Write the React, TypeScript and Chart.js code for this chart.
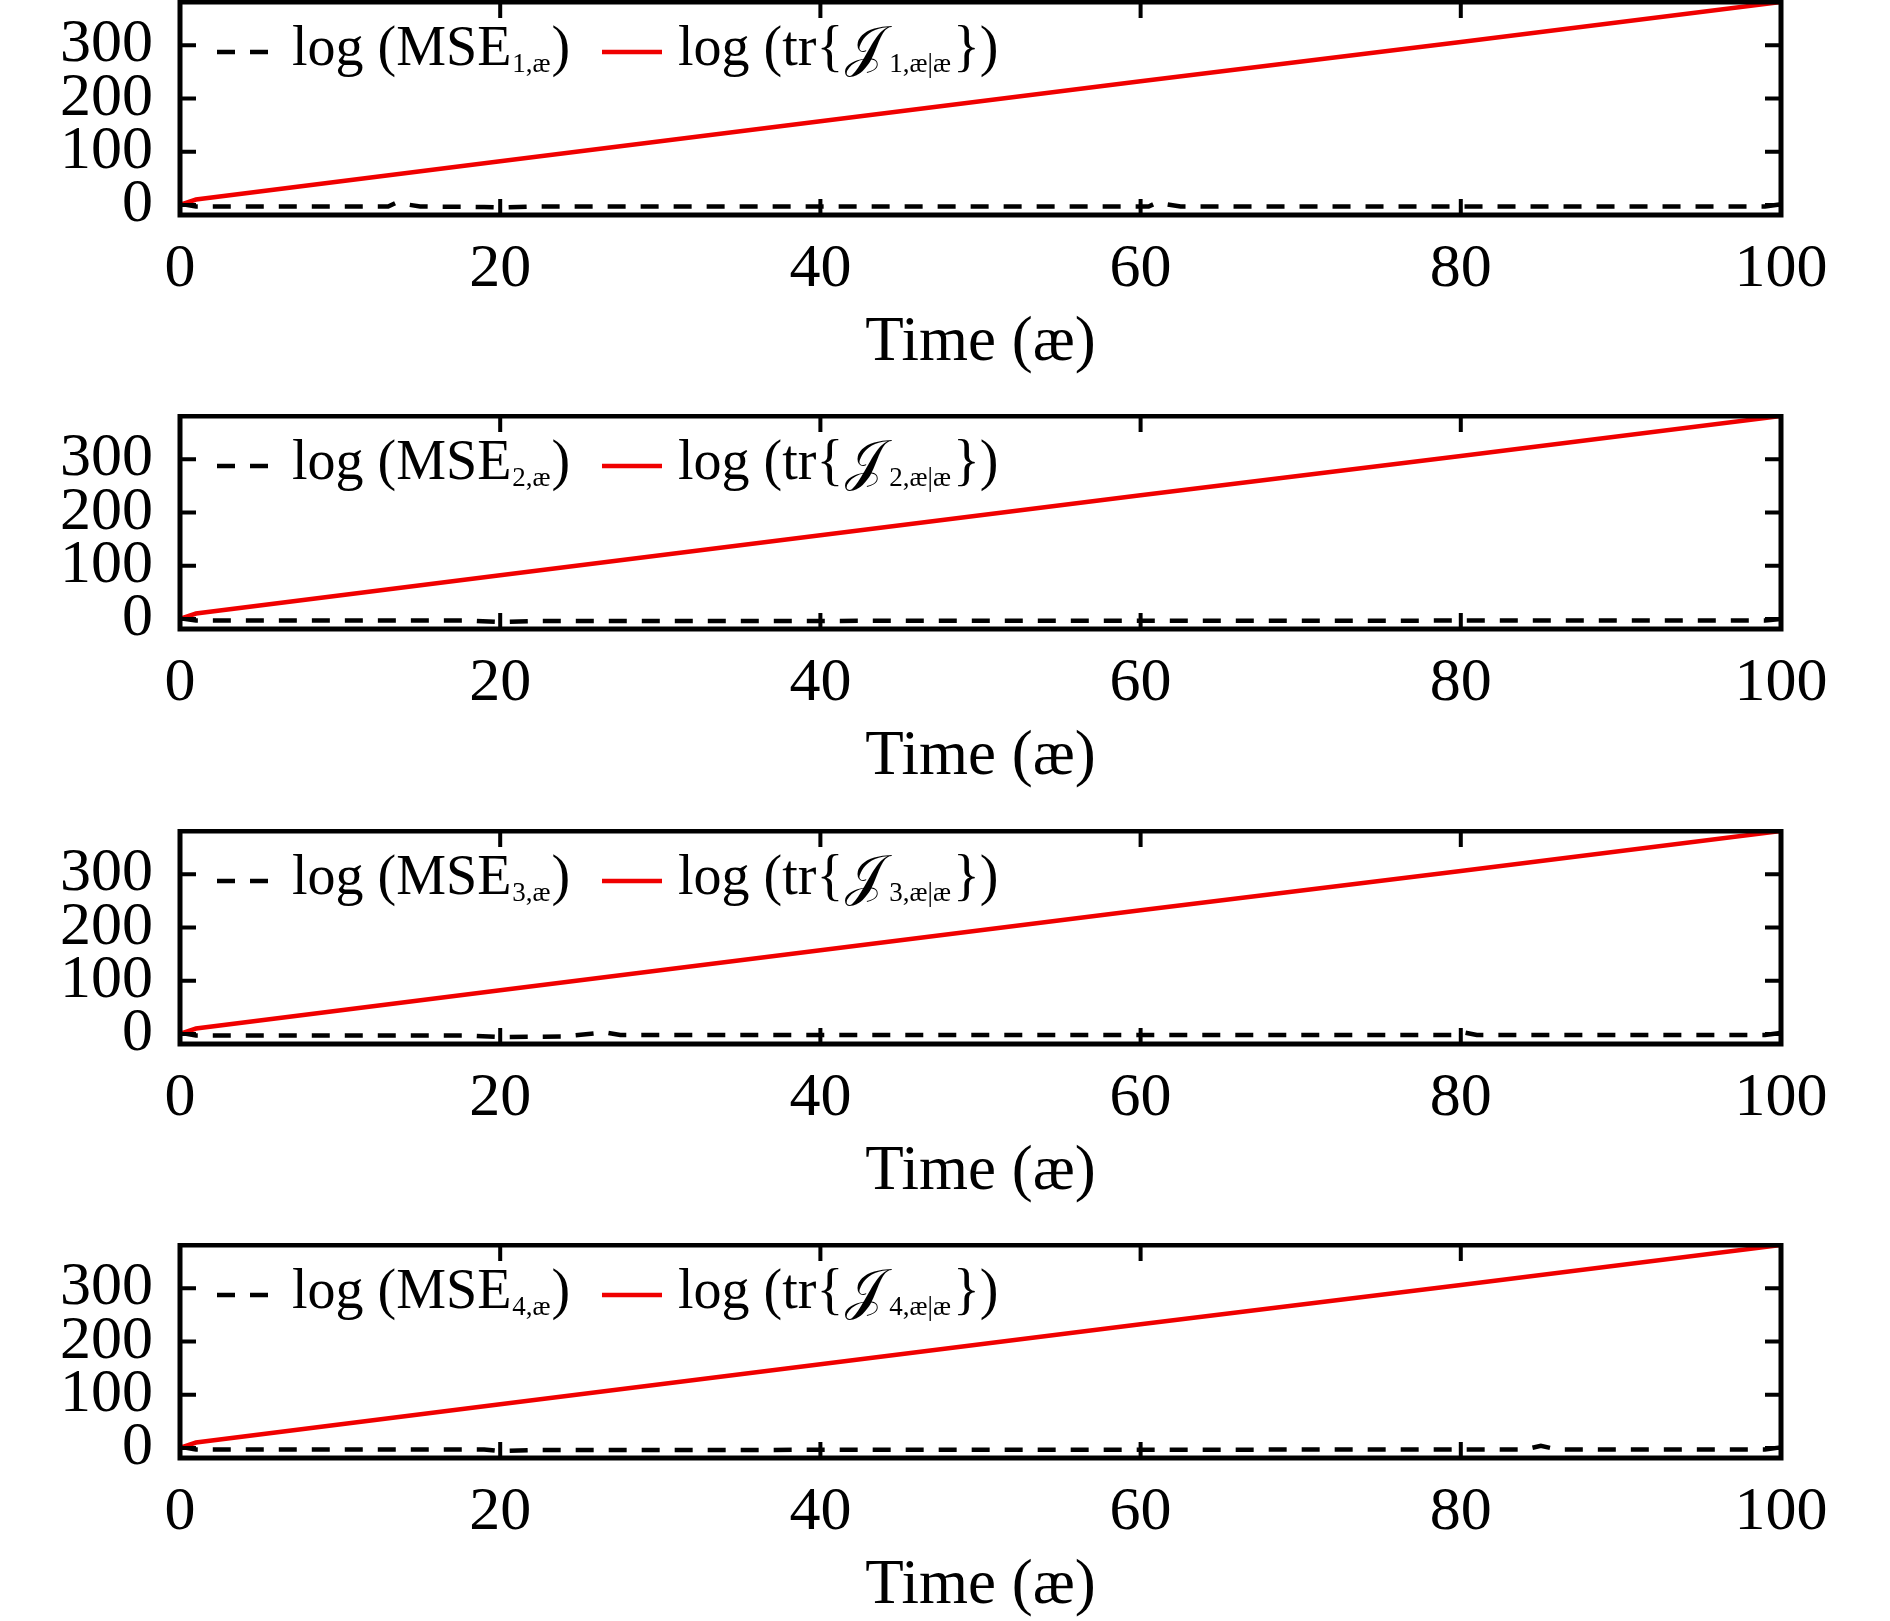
import React, { useEffect, useRef } from 'react';
import { Chart, ChartConfiguration, registerables } from 'chart.js';

Chart.register(...registerables);

const xTicks = [0, 20, 40, 60, 80, 100];
const yTicks = [0, 100, 200, 300];

// log(tr{J}), same in all four panels
const traceTimes = [0, 1, 20, 40, 60, 80, 100];
const traceValues = [0, 10, 82, 157, 232, 306, 381];

// log(MSE) per panel
const mseTimes1 = [0, 1, 13, 13.5, 15, 19, 20, 22, 60.5, 61, 62.5, 99, 100];
const mseValues1 = [2, -3, -3, 4, -3, -4, -5, -3, -3, 4, -3, -3, 1];
const mseTimes2 = [0, 1, 18, 20, 22, 99, 100];
const mseValues2 = [1, -3, -3, -6, -4, -3, 0];
const mseTimes3 = [0, 1, 18, 20, 24, 26.5, 27.5, 79.5, 80, 81, 99, 100];
const mseValues3 = [2, -3, -3, -6, -5, 3, -2, -2, 4, -2, -2, 2];
const mseTimes4 = [0, 1, 19, 20, 22, 84, 85, 86, 99, 100];
const mseValues4 = [2, -3, -3, -6, -4, -3, 4, -3, -3, 1];

const mseTimes = [mseTimes1, mseTimes2, mseTimes3, mseTimes4];
const mseValues = [mseValues1, mseValues2, mseValues3, mseValues4];

const serif = "'Liberation Serif', 'Times New Roman', serif";
const red = 'rgb(240, 0, 0)';
const panelTops = [0, 414, 829, 1243];

const pairs = (xs: number[], ys: number[]) => xs.map((x, i) => ({ x, y: ys[i] }));

const putText = (ctx: CanvasRenderingContext2D, text: string, x: number, y: number, font: string) => {
  ctx.font = font;
  ctx.fillText(text, x, y);
  return x + ctx.measureText(text).width;
};

const Panel = ({ index }: { index: number }) => {
  const ref = useRef<HTMLCanvasElement | null>(null);
  const chartRef = useRef<Chart<'line'> | null>(null);

  useEffect(() => {
    const n = index + 1;

    const framePlugin = {
      id: 'frame',
      afterDatasetsDraw(chart: Chart) {
        const { ctx, chartArea: a } = chart;
        const xs = chart.scales.x;
        const ys = chart.scales.y;
        const len = 16;
        ctx.save();
        ctx.strokeStyle = '#000';
        ctx.lineWidth = 4;
        ctx.beginPath();
        xs.ticks.forEach((t) => {
          const px = xs.getPixelForValue(t.value);
          ctx.moveTo(px, a.bottom);
          ctx.lineTo(px, a.bottom - len);
          ctx.moveTo(px, a.top);
          ctx.lineTo(px, a.top + len);
        });
        ys.ticks.forEach((t) => {
          const py = ys.getPixelForValue(t.value);
          ctx.moveTo(a.left, py);
          ctx.lineTo(a.left + len, py);
          ctx.moveTo(a.right, py);
          ctx.lineTo(a.right - len, py);
        });
        ctx.stroke();
        ctx.lineWidth = 5;
        ctx.strokeRect(a.left, a.top, a.right - a.left, a.bottom - a.top);
        ctx.restore();
      },
    };

    const legendPlugin = {
      id: 'insideLegend',
      afterDraw(chart: Chart) {
        const { ctx, chartArea: a } = chart;
        const lineY = a.top + 50;
        const base = a.top + 63;
        const big = `56px ${serif}`;
        const small = `27px ${serif}`;
        ctx.save();
        ctx.textBaseline = 'alphabetic';
        ctx.textAlign = 'left';
        ctx.fillStyle = '#000';

        ctx.strokeStyle = '#000';
        ctx.lineWidth = 4.5;
        ctx.setLineDash([18, 15]);
        ctx.beginPath();
        ctx.moveTo(a.left + 37, lineY);
        ctx.lineTo(a.left + 88, lineY);
        ctx.stroke();
        ctx.setLineDash([]);

        let x = a.left + 112;
        x = putText(ctx, 'log (MSE', x, base, big);
        x = putText(ctx, `${n},æ`, x + 1, base + 7, small);
        putText(ctx, ')', x + 1, base, big);

        ctx.strokeStyle = red;
        ctx.beginPath();
        ctx.moveTo(a.left + 422, lineY);
        ctx.lineTo(a.left + 482, lineY);
        ctx.stroke();

        x = a.left + 498;
        x = putText(ctx, 'log (tr{', x, base, big);
        x = putText(ctx, '𝒥', x + 2, base, big);
        x = putText(ctx, `${n},æ|æ`, x + 5, base + 7, small);
        putText(ctx, '})', x + 2, base, big);
        ctx.restore();
      },
    };

    const config: ChartConfiguration<'line'> = {
      type: 'line',
      data: {
        datasets: [
          {
            label: `log (tr{𝒥${n},æ|æ})`,
            data: pairs(traceTimes, traceValues),
            borderColor: red,
            borderWidth: 4.5,
            pointRadius: 0,
            tension: 0,
          },
          {
            label: `log (MSE${n},æ)`,
            data: pairs(mseTimes[index], mseValues[index]),
            borderColor: '#000',
            borderWidth: 4.5,
            borderDash: [18, 15],
            pointRadius: 0,
            tension: 0,
          },
        ],
      },
      options: {
        animation: false,
        responsive: true,
        maintainAspectRatio: false,
        layout: { padding: { top: 2, right: 109, left: 0, bottom: 0 } },
        plugins: { legend: { display: false }, tooltip: { enabled: false } },
        scales: {
          x: {
            type: 'linear',
            min: 0,
            max: 100,
            afterFit: (s) => {
              s.height = 199;
              s.paddingLeft = 0;
              s.paddingRight = 0;
            },
            afterBuildTicks: (s) => { s.ticks = xTicks.map((v) => ({ value: v })); },
            grid: { display: false, drawTicks: false },
            border: { display: false },
            ticks: {
              font: { family: serif, size: 62 },
              color: '#000',
              padding: 18,
              maxRotation: 0,
              autoSkip: false,
            },
            title: {
              display: true,
              text: 'Time (æ)',
              font: { family: serif, size: 63 },
              color: '#000',
              padding: { top: 0, bottom: 33 },
            },
          },
          y: {
            type: 'linear',
            min: -19,
            max: 381,
            afterFit: (s) => {
              s.width = 180;
              s.paddingTop = 0;
              s.paddingBottom = 0;
            },
            afterBuildTicks: (s) => { s.ticks = yTicks.map((v) => ({ value: v })); },
            grid: { display: false, drawTicks: false },
            border: { display: false },
            ticks: {
              font: { family: serif, size: 62 },
              color: '#000',
              padding: 27,
              autoSkip: false,
            },
          },
        },
      },
      plugins: [framePlugin, legendPlugin],
    };

    if (chartRef.current) chartRef.current.destroy();
    if (ref.current) chartRef.current = new Chart(ref.current, config);

    return () => {
      chartRef.current?.destroy();
      chartRef.current = null;
    };
  }, [index]);

  return (
    <div style={{ position: 'absolute', left: 0, top: panelTops[index], width: 1890, height: 414 }}>
      <canvas ref={ref}></canvas>
    </div>
  );
};

const App = () => {
  useEffect(() => {
    document.body.style.margin = '0';
  }, []);

  return (
    <div style={{ position: 'relative', width: 1890, height: 1621, overflow: 'hidden', background: '#fff' }}>
      {[0, 1, 2, 3].map((i) => (
        <Panel key={i} index={i} />
      ))}
    </div>
  );
};

export default App;
